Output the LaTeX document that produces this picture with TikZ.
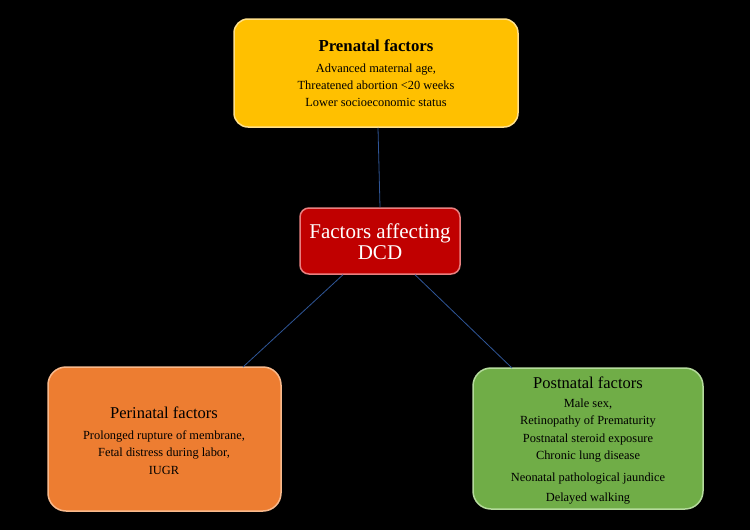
\documentclass[tikz,border=0pt]{standalone}
\usepackage{fontspec}
\setmainfont{Liberation Serif}
\definecolor{pregold}{HTML}{FFC000}
\definecolor{preedge}{HTML}{FFE08A}
\definecolor{cred}{HTML}{C00000}
\definecolor{credge}{HTML}{E88080}
\definecolor{periorange}{HTML}{ED7D31}
\definecolor{periedge}{HTML}{F8B98C}
\definecolor{postgreen}{HTML}{70AD47}
\definecolor{postedge}{HTML}{B5DB9C}
\definecolor{linkblue}{HTML}{2F5597}
\begin{document}
\begin{tikzpicture}[x=1pt,y=-1pt,
  box/.style={draw, line width=1.5pt, rounded corners=14pt},
  body/.style={font=\fontsize{12.4}{14}\selectfont, text=black, inner sep=0pt, anchor=base},
  ttl/.style={font=\fontsize{16.5}{18}\selectfont, text=black, inner sep=0pt, anchor=base},
  link/.style={draw=linkblue, line width=0.8pt}]
\fill[black] (0,0) rectangle (750,530);
\useasboundingbox (0,0) rectangle (750,530);
% boxes
\node[box, fill=pregold, draw=preedge, minimum width=284pt, minimum height=108pt, inner sep=0pt] (pre) at (376,73) {};
\node[box, fill=cred, draw=credge, minimum width=160pt, minimum height=66pt, inner sep=0pt, rounded corners=9pt] (ctr) at (380,241) {};
\node[box, fill=periorange, draw=periedge, minimum width=233pt, minimum height=144pt, inner sep=0pt, rounded corners=18pt] (peri) at (164.5,439) {};
\node[box, fill=postgreen, draw=postedge, minimum width=230pt, minimum height=141pt, inner sep=0pt, rounded corners=18pt] (post) at (588,438.5) {};
% connectors
\coordinate (preb) at (378,127);
\coordinate (ctrbl) at (343,274);
\coordinate (ctrbr) at (415,274);
\coordinate (perit) at (243,367);
\coordinate (postt) at (512,368);
\draw[link] (pre.south -| preb) -- (ctr.north);
\draw[link] (ctr.south -| ctrbl) -- (perit);
\draw[link] (ctr.south -| ctrbr) -- (postt);
% prenatal text
\node[ttl, font=\fontsize{16.8}{18}\selectfont\bfseries] (pret) at (376,51) {Prenatal factors};
\node[body] (pre1) at (376,72) {Advanced maternal age,};
\node[body] (pre2) at (376,89.5) {Threatened abortion <20 weeks};
\node[body] (pre3) at (376,106) {Lower socioeconomic status};
% center text
\node[ttl, font=\fontsize{21}{22}\selectfont, text=white] (c1) at (380,238) {Factors affecting};
\node[ttl, font=\fontsize{21}{22}\selectfont, text=white] (c2) at (380,259) {DCD};
% perinatal text
\node[ttl] (perit1) at (164,418) {Perinatal factors};
\node[body] (peri1) at (164,439) {Prolonged rupture of membrane,};
\node[body] (peri2) at (164,456.5) {Fetal distress during labor,};
\node[body] (peri3) at (164,474) {IUGR};
% postnatal text
\node[ttl] (postt1) at (588,388) {Postnatal factors};
\node[body] (post1) at (588,407) {Male sex,};
\node[body] (post2) at (588,424) {Retinopathy of Prematurity};
\node[body] (post3) at (588,442) {Postnatal steroid exposure};
\node[body] (post4) at (588,459) {Chronic lung disease};
\node[body] (post5) at (588,481) {Neonatal pathological jaundice};
\node[body] (post6) at (588,501) {Delayed walking};
\end{tikzpicture}
\end{document}
